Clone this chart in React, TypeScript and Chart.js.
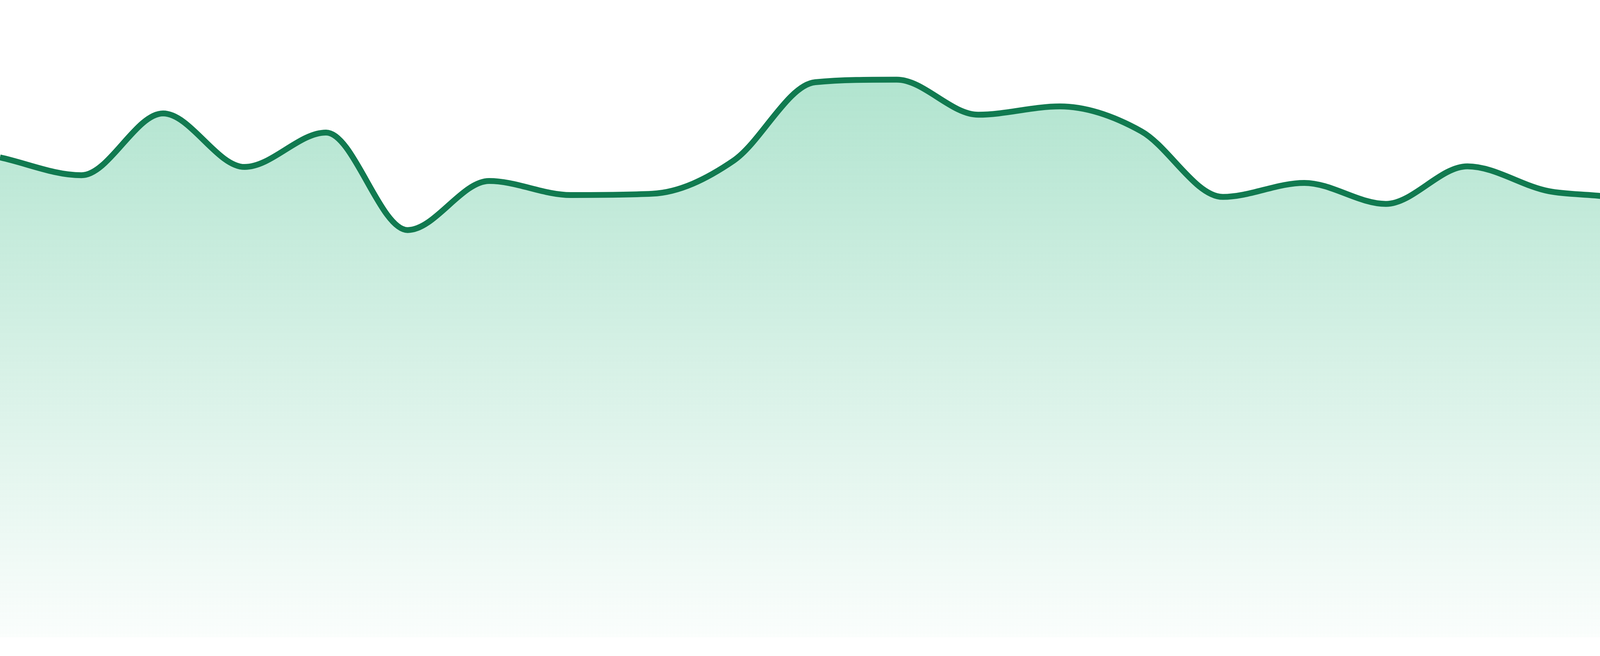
import React, { useEffect, useRef } from "react";
import { Chart, registerables } from "chart.js";

Chart.register(...registerables);

// 24 evenly spaced samples
const labels: string[] = [
  "1", "2", "3", "4", "5", "6", "7", "8", "9", "10", "11", "12",
  "13", "14", "15", "16", "17", "18", "19", "20", "21", "22", "23", "24",
];

const values: number[] = [
  75.3, 72.5, 82.2, 73.8, 79.2, 63.9, 71.6, 69.4, 69.6, 74.8, 87.1, 87.5,
  82.0, 83.3, 79.4, 69.1, 71.3, 68.0, 73.9, 70.0, 68.2, 58.6, 57.9, 58.5,
];

const yMin = 0;
const yMax = 100;

const App: React.FC = () => {
  const canvasRef = useRef<HTMLCanvasElement | null>(null);
  const chartRef = useRef<Chart | null>(null);

  useEffect(() => {
    if (!canvasRef.current) return;
    if (chartRef.current) chartRef.current.destroy();

    chartRef.current = new Chart(canvasRef.current, {
      type: "line",
      data: {
        labels,
        datasets: [
          {
            data: values,
            borderColor: "#117a50",
            borderWidth: 15,
            pointRadius: 0,
            pointHoverRadius: 0,
            cubicInterpolationMode: "monotone",
            fill: "start",
            // vertical fade, strongest at the top of the plot
            backgroundColor: (ctx: any) => {
              const { chart } = ctx;
              const area = chart.chartArea;
              if (!area) return "rgba(16,172,108,0.2)";
              const g = chart.ctx.createLinearGradient(0, area.top, 0, area.bottom);
              g.addColorStop(0, "rgba(16,172,108,0.37)");
              g.addColorStop(1, "rgba(16,172,108,0.02)");
              return g;
            },
          },
        ],
      },
      options: {
        animation: false,
        responsive: true,
        maintainAspectRatio: false,
        layout: { padding: { top: 0, left: 0, right: 0, bottom: 48 } },
        scales: {
          x: { display: false, offset: false },
          y: { display: false, min: yMin, max: yMax },
        },
        plugins: {
          legend: { display: false },
          tooltip: { enabled: false },
        },
      },
    });

    return () => {
      if (chartRef.current) {
        chartRef.current.destroy();
        chartRef.current = null;
      }
    };
  }, []);

  return (
    <div
      style={{
        position: "absolute",
        left: 0,
        top: 0,
        width: "4800px",
        height: "1680px",
        background: "#ffffff",
      }}
    >
      <canvas ref={canvasRef} />
    </div>
  );
};

export default App;
